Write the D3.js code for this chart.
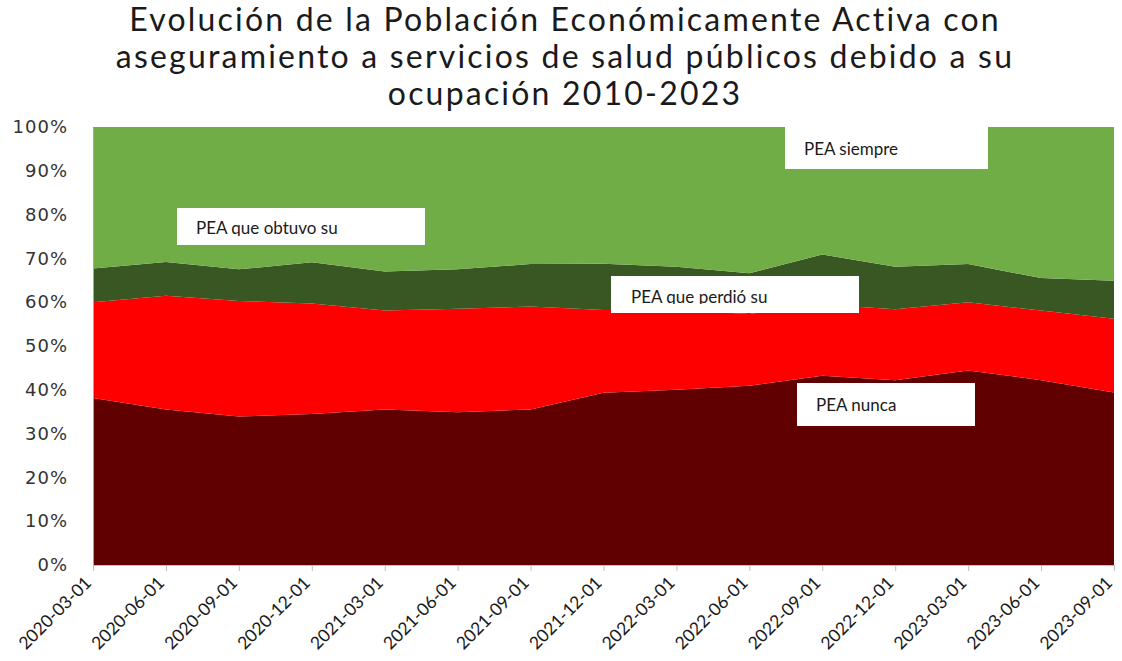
<!DOCTYPE html>
<html>
<head>
<meta charset="utf-8">
<script src="https://cdn.jsdelivr.net/npm/d3@7"></script>
<style>
  body { margin: 0; background: #fff; }
  svg { display: block; }
</style>
</head>
<body>
<div id="chart"></div>
<script>
// quarterly dates
const dates = ["2020-03-01", "2020-06-01", "2020-09-01", "2020-12-01", "2021-03-01",
  "2021-06-01", "2021-09-01", "2021-12-01", "2022-03-01", "2022-06-01",
  "2022-09-01", "2022-12-01", "2023-03-01", "2023-06-01", "2023-09-01"]

// shares of the PEA (%)
const nunca   = [38.1, 35.5, 33.9, 34.5, 35.5, 34.9, 35.5, 39.3, 40.0, 40.9, 43.2, 42.2, 44.4, 42.2, 39.4]
const perdio  = [21.9, 26.0, 26.4, 25.2, 22.6, 23.6, 23.5, 18.9, 18.2, 16.4, 16.3, 16.2, 15.6, 15.9, 16.8]
const obtuvo  = [7.7, 7.7, 7.2, 9.4, 8.9, 9.0, 9.7, 10.6, 9.9, 9.3, 11.4, 9.7, 8.7, 7.4, 8.7]
const siempre = [32.3, 30.8, 32.5, 30.9, 33.0, 32.5, 31.3, 31.2, 31.9, 33.4, 29.1, 31.9, 31.3, 34.5, 35.1]

const keys = ["nunca", "perdio", "obtuvo", "siempre"]
const labels = ["PEA nunca", "PEA que perdió su", "PEA que obtuvo su", "PEA siempre"]
const colors = ["#610000", "#ff0000", "#385723", "#70ad47"]
const yTicks = [0, 0.1, 0.2, 0.3, 0.4, 0.5, 0.6, 0.7, 0.8, 0.9, 1]

const titleLines = ["Evolución de la Población Económicamente Activa con",
  "aseguramiento a servicios de salud públicos debido a su",
  "ocupación 2010-2023"]

const W = 1122, H = 661
const MARGIN = { TOP: 127, BOTTOM: 96, LEFT: 93, RIGHT: 8 }
const WIDTH = W - MARGIN.LEFT - MARGIN.RIGHT
const HEIGHT = H - MARGIN.TOP - MARGIN.BOTTOM

const data = dates.map((d, i) => ({
  date: d, nunca: nunca[i], perdio: perdio[i], obtuvo: obtuvo[i], siempre: siempre[i]
}))

const svg = d3.select("#chart").append("svg")
  .attr("width", W)
  .attr("height", H)

// title
svg.append("g").selectAll("text")
  .data(titleLines)
  .enter().append("text")
    .attr("x", 565)
    .attr("y", (d, i) => 31 + i * 37)
    .attr("text-anchor", "middle")
    .attr("font-family", "Lato, sans-serif")
    .attr("font-size", 32)
    .attr("letter-spacing", 2.2)
    .attr("fill", "#1a1a1a")
    .text(d => d)

const g = svg.append("g")
  .attr("transform", `translate(${MARGIN.LEFT}, ${MARGIN.TOP})`)

const x = d3.scalePoint()
  .domain(dates)
  .range([0, WIDTH])

const y = d3.scaleLinear()
  .domain([0, 1])
  .range([HEIGHT, 0])

// 100% stacked areas
const series = d3.stack()
  .keys(keys)
  .offset(d3.stackOffsetExpand)(data)

const area = d3.area()
  .x(d => x(d.data.date))
  .y0(d => y(d[0]))
  .y1(d => y(d[1]))

g.selectAll("path.layer")
  .data(series)
  .enter().append("path")
    .attr("class", "layer")
    .attr("d", area)
    .attr("fill", (d, i) => colors[i])

// y axis
const yAxis = g.append("g")
  .call(d3.axisLeft(y).tickValues(yTicks).tickFormat(d3.format(".0%")).tickSize(0).tickPadding(25))
yAxis.select(".domain").attr("stroke", "#a6a6a6")
yAxis.selectAll("text")
  .attr("font-family", "DejaVu Sans, sans-serif")
  .attr("font-size", 18)
  .attr("letter-spacing", 1)
  .attr("fill", "#333")

// x axis
const xAxis = g.append("g")
  .attr("transform", `translate(0,${HEIGHT})`)
  .call(d3.axisBottom(x).tickSizeOuter(0).tickSize(6))
xAxis.select(".domain").attr("stroke", "#bfbfbf")
xAxis.selectAll(".tick line").attr("stroke", "#bfbfbf")
xAxis.selectAll("text")
  .attr("font-family", "Lato, sans-serif")
  .attr("font-size", 17.5)
  .attr("fill", "#1a1a1a")
  .attr("text-anchor", "end")
  .attr("y", 0)
  .attr("dy", 0)
  .attr("transform", "translate(-1,19) rotate(-45)")

// white label boxes; some labels are cut off at the bottom like in the original
const boxes = [
  { text: labels[2], x: 177, y: 208, w: 248, h: 37, tx: 196, ty: 234, clip: 236 },
  { text: labels[1], x: 611, y: 276, w: 248, h: 37, tx: 631, ty: 303, clip: 304 },
  { text: labels[3], x: 785, y: 127, w: 203, h: 42, tx: 804, ty: 155, clip: null },
  { text: labels[0], x: 797, y: 383, w: 178, h: 43, tx: 816, ty: 411, clip: null }
]

const defs = svg.append("defs")
boxes.forEach((b, i) => {
  const bg = svg.append("g")
  bg.append("rect")
    .attr("x", b.x).attr("y", b.y)
    .attr("width", b.w).attr("height", b.h)
    .attr("fill", "#fff")
  if (b.clip) {
    defs.append("clipPath").attr("id", "clip" + i)
      .append("rect")
        .attr("x", b.x).attr("y", b.y)
        .attr("width", b.w).attr("height", b.clip - b.y)
  }
  bg.append("text")
    .attr("x", b.tx).attr("y", b.ty)
    .attr("font-family", "Lato, sans-serif")
    .attr("font-size", 17)
    .attr("fill", "#1a1a1a")
    .attr("clip-path", b.clip ? `url(#clip${i})` : null)
    .text(b.text)
})
</script>
</body>
</html>
